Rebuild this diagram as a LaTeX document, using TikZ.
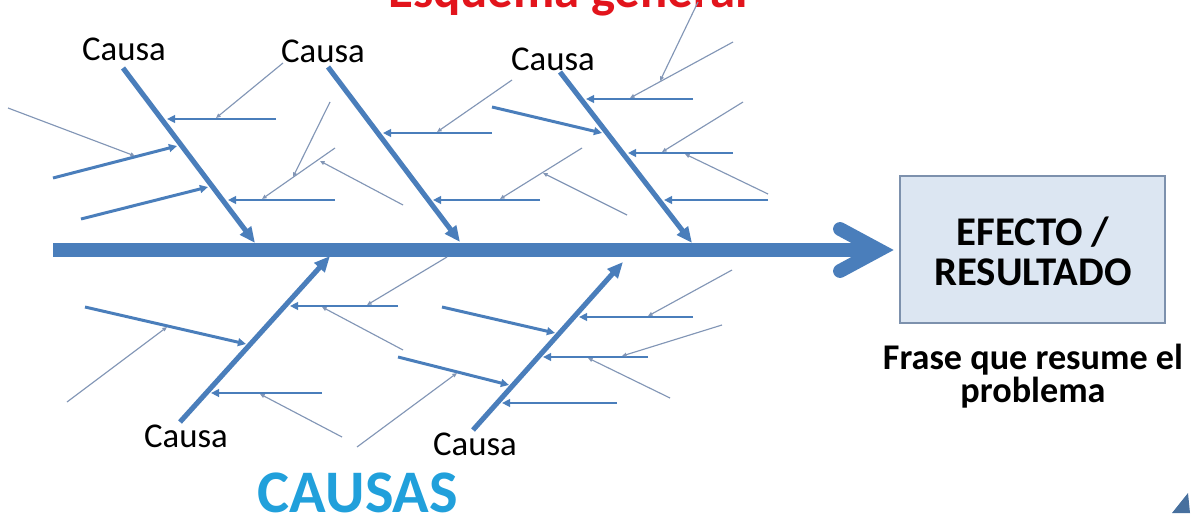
\documentclass[tikz,border=0pt]{standalone}
\usepackage{fontspec}
\setmainfont{Carlito}
\usetikzlibrary{arrows.meta}

\definecolor{bonecol}{HTML}{4A7EBB}
\definecolor{twigcol}{HTML}{8296B6}
\definecolor{boxfill}{HTML}{DCE6F2}
\definecolor{boxline}{HTML}{7D91AD}
\definecolor{titlered}{HTML}{E2141C}
\definecolor{causacol}{HTML}{21A0DB}
\definecolor{logocol}{HTML}{47709E}

\tikzset{
	spine/.style={bonecol, line width=7.9pt},
	bone/.style={bonecol, line width=2.9pt, -{Triangle[length=9pt,width=7.6pt]}},
	rib/.style={bonecol, line width=1.7pt, -{Triangle[length=4.6pt,width=4.4pt]}},
	twig/.style={twigcol, line width=0.65pt, -{Triangle[length=2.6pt,width=2.2pt]}},
	causa/.style={anchor=base, inner sep=0pt, font=\fontsize{19.8}{22}\selectfont},
	effecttext/.style={anchor=base, inner sep=0pt, font=\bfseries\fontsize{23.2}{25}\selectfont},
	phrase/.style={anchor=base, inner sep=0pt, font=\bfseries\fontsize{20.6}{22}\selectfont},
}

\begin{document}
\begin{tikzpicture}[x=0.02cm, y=-0.02cm]
	\useasboundingbox (0,0) rectangle (1195,517);
	\clip (0,0) rectangle (1195,517);

	\node[anchor=base, inner sep=0pt, text=titlered, font=\bfseries\fontsize{28.9}{30}\selectfont] (title) at (568,8) {Esquema general};

	\node[draw=boxline, line width=1.2pt, fill=boxfill, minimum width=5.3cm, minimum height=2.94cm, inner sep=0pt] (effect) at (1032.5,249.5) {};
	\node[effecttext] (efecto) at (1033,245) {EFECTO /};
	\node[effecttext] (resultado) at (1033,285) {RESULTADO};
	\node[phrase] (frase) at (1033,369) {Frase que resume el};
	\node[phrase] (problema) at (1033,402) {problema};

	\coordinate (tail) at (53,250);
	\coordinate (head) at (879,250);
	\draw[spine] (tail) -- (head);
	\draw[spine, line cap=round, line join=miter] (840,229) -- (head) -- (840,271);

	\draw[bone] (123,68) -- (255,243);
	\draw[bone] (328,67) -- (460,242);
	\draw[bone] (560,72) -- (692,243);
	\draw[bone] (180,422) -- (330,256);
	\draw[bone] (473,430) -- (623,262);

	\draw[rib] (276,119) -- (167,119);
	\draw[rib] (53,178) -- (177,146);
	\draw[rib] (81,219) -- (208,187);
	\draw[rib] (335,200) -- (228,200);
	\draw[rib] (492,133) -- (383,133);
	\draw[rib] (540,200) -- (433,200);
	\draw[rib] (693,99) -- (586,99);
	\draw[rib] (492,107) -- (602,133);
	\draw[rib] (733,153) -- (628,153);
	\draw[rib] (768,200) -- (664,200);
	\draw[rib] (398,306) -- (290,306);
	\draw[rib] (85,307) -- (246,344);
	\draw[rib] (322,393) -- (211,393);
	\draw[rib] (693,317) -- (579,317);
	\draw[rib] (442,307) -- (555,333);
	\draw[rib] (648,357) -- (543,357);
	\draw[rib] (398,357) -- (509,385);
	\draw[rib] (617,403) -- (502,403);

	\draw[twig] (283,63) -- (216,118);
	\draw[twig] (8,108) -- (135,156);
	\draw[twig] (330,102) -- (293,177);
	\draw[twig] (335,148) -- (262,199);
	\draw[twig] (403,205) -- (320,161);
	\draw[twig] (512,80) -- (437,132);
	\draw[twig] (582,148) -- (500,199);
	\draw[twig] (627,215) -- (543,173);
	\draw[twig] (733,42) -- (630,98);
	\draw[twig] (698,2) -- (660,81);
	\draw[twig] (743,102) -- (662,152);
	\draw[twig] (768,194) -- (685,154);
	\draw[twig] (447,257) -- (367,305);
	\draw[twig] (403,350) -- (322,307);
	\draw[twig] (67,402) -- (167,327);
	\draw[twig] (342,437) -- (260,394);
	\draw[twig] (357,447) -- (457,373);
	\draw[twig] (732,270) -- (648,316);
	\draw[twig] (722,325) -- (622,356);
	\draw[twig] (670,398) -- (588,358);

	\node[causa] (causa1) at (124,61) {Causa};
	\node[causa] (causa2) at (323,63) {Causa};
	\node[causa] (causa3) at (553,71) {Causa};
	\node[causa] (causa4) at (186,447) {Causa};
	\node[causa] (causa5) at (475,455) {Causa};

	\node[anchor=base, inner sep=0pt, text=causacol, font=\bfseries\fontsize{34.4}{36}\selectfont] (causas) at (358,512) {CAUSAS};

	\fill[logocol] (1172,513) -- (1188,493) -- (1190,513) -- cycle;
\end{tikzpicture}
\end{document}
